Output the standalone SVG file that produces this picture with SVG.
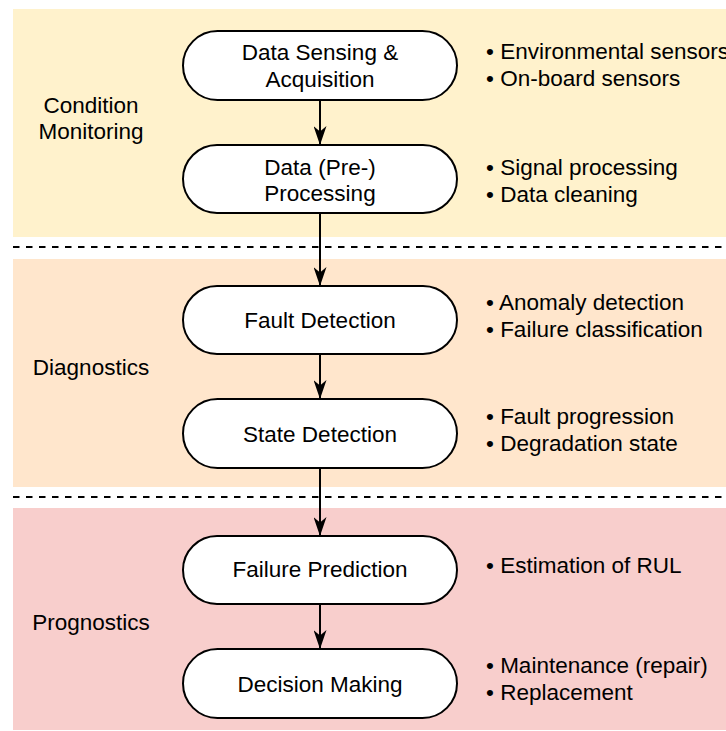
<svg xmlns="http://www.w3.org/2000/svg" width="726" height="731" viewBox="0 0 726 731">
<style>
text{font-family:"Liberation Sans",Arial,sans-serif;font-size:22.5px;fill:#000}
.c{text-anchor:middle}
.node{fill:#fff;stroke:#000;stroke-width:2}
.dash{stroke:#000;stroke-width:2;stroke-dasharray:6.5 6.5;fill:none}
.edge{stroke:#000;stroke-width:2;fill:none}
</style>
<defs>
<marker id="arr" markerUnits="userSpaceOnUse" markerWidth="19" markerHeight="13" refX="19" refY="6.5" orient="auto" viewBox="0 0 19 13">
<path d="M0,0 L19,6.5 L0,13 L5.5,6.5 Z" fill="#000"/>
</marker>
</defs>
<g id="bands">
<rect x="13" y="9" width="713" height="228" fill="#fff2cc"/>
<rect x="13" y="259" width="713" height="228" fill="#ffe6cc"/>
<rect x="13" y="508" width="713" height="222" fill="#f8cecc"/>
<line class="dash" x1="13" y1="247" x2="726" y2="247"/>
<line class="dash" x1="13" y1="497" x2="726" y2="497"/>
</g>
<g id="phase-labels">
<text class="c" x="91" y="113">Condition</text>
<text class="c" x="91" y="139">Monitoring</text>
<text class="c" x="91" y="375">Diagnostics</text>
<text class="c" x="91" y="630">Prognostics</text>
</g>
<g id="connectors">
<line class="edge" x1="320" y1="100" x2="320" y2="145" marker-end="url(#arr)"/>
<line class="edge" x1="320" y1="213" x2="320" y2="286" marker-end="url(#arr)"/>
<line class="edge" x1="320" y1="354" x2="320" y2="399" marker-end="url(#arr)"/>
<line class="edge" x1="320" y1="468" x2="320" y2="536" marker-end="url(#arr)"/>
<line class="edge" x1="320" y1="604" x2="320" y2="649" marker-end="url(#arr)"/>
</g>
<g id="n1">
<rect class="node" x="183" y="31" width="274" height="69" rx="34.5"/>
<text class="c" x="320" y="60">Data Sensing &amp;</text>
<text class="c" x="320" y="87">Acquisition</text>
</g>
<g id="n2">
<rect class="node" x="183" y="145" width="274" height="68" rx="34"/>
<text class="c" x="320" y="175">Data (Pre-)</text>
<text class="c" x="320" y="201">Processing</text>
</g>
<g id="n3">
<rect class="node" x="183" y="286" width="274" height="68" rx="34"/>
<text class="c" x="320" y="328">Fault Detection</text>
</g>
<g id="n4">
<rect class="node" x="183" y="399" width="274" height="69" rx="34.5"/>
<text class="c" x="320" y="442">State Detection</text>
</g>
<g id="n5">
<rect class="node" x="183" y="536" width="274" height="68" rx="34"/>
<text class="c" x="320" y="577">Failure Prediction</text>
</g>
<g id="n6">
<rect class="node" x="183" y="649" width="274" height="69" rx="34.5"/>
<text class="c" x="320" y="692">Decision Making</text>
</g>
<g id="notes">
<text x="486" y="59">• Environmental sensors</text>
<text x="486" y="86">• On-board sensors</text>
<text x="486" y="175">• Signal processing</text>
<text x="486" y="202">• Data cleaning</text>
<text x="486" y="310">• Anomaly detection</text>
<text x="486" y="337">• Failure classification</text>
<text x="486" y="424">• Fault progression</text>
<text x="486" y="451">• Degradation state</text>
<text x="486" y="573">• Estimation of RUL</text>
<text x="486" y="673">• Maintenance (repair)</text>
<text x="486" y="700">• Replacement</text>
</g>
</svg>
